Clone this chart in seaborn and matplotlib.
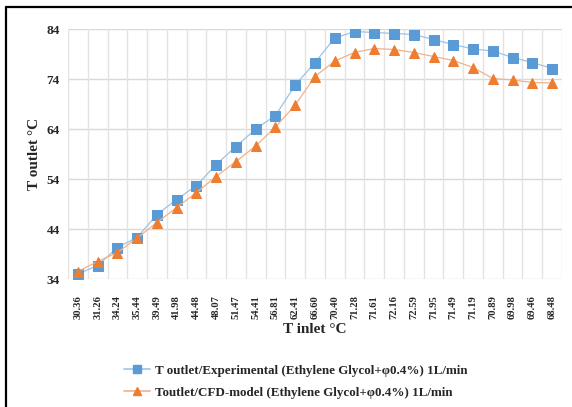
import matplotlib
matplotlib.use("Agg")
import matplotlib.pyplot as plt
import seaborn as sns
import pandas as pd
from matplotlib.lines import Line2D

t_inlet = ["30.36", "31.26", "34.24", "35.44", "39.49", "41.98", "44.48", "48.07",
           "51.47", "54.41", "56.81", "62.41", "66.60", "70.40", "71.28", "71.61",
           "72.16", "72.59", "71.95", "71.49", "71.19", "70.89", "69.98", "69.46", "68.48"]
t_out_exp = [35.0, 36.7, 40.3, 42.3, 46.9, 49.9, 52.7, 56.9, 60.5, 64.0, 66.7, 72.8,
             77.3, 82.2, 83.5, 83.3, 83.1, 82.9, 81.9, 80.9, 80.0, 79.6, 78.3, 77.3, 76.1]
t_out_cfd = [35.5, 37.5, 39.3, 42.2, 45.3, 48.3, 51.3, 54.5, 57.5, 60.6, 64.4, 68.8,
             74.5, 77.6, 79.3, 80.1, 79.9, 79.3, 78.5, 77.7, 76.3, 74.1, 73.8, 73.3, 73.2]
y_ticks = [34, 44, 54, 64, 74, 84]
label_exp = "T outlet/Experimental (Ethylene Glycol+\u03c60.4%) 1L/min"
label_cfd = "Toutlet/CFD-model (Ethylene Glycol+\u03c60.4%) 1L/min"

sns.set_style("white")
plt.rcParams['font.family'] = ['Liberation Serif', 'DejaVu Serif']

blue = "#5B9BD5"
orange = "#ED7D31"

idx = list(range(len(t_inlet)))
df = pd.DataFrame({"i": idx, "exp": t_out_exp, "cfd": t_out_cfd})

fig = plt.figure(figsize=(5.72, 4.07), dpi=100)
ax = fig.add_axes([68 / 572, 1 - 279 / 407, (562 - 68) / 572, (279 - 29) / 407])

# frame lines (top and left) of the chart area
fig.add_artist(Line2D([6 / 572, 1.0], [1 - 7 / 407, 1 - 7 / 407], color="black", lw=1.6, transform=fig.transFigure))
fig.add_artist(Line2D([6 / 572, 6 / 572], [0, 1 - 7 / 407], color="black", lw=1.6, transform=fig.transFigure))

sns.lineplot(data=df, x="i", y="exp", ax=ax, color="#9DC3E6", lw=0.9, marker="s",
             markersize=6.5, markerfacecolor=blue, markeredgecolor=blue, zorder=3)
sns.lineplot(data=df, x="i", y="cfd", ax=ax, color="#F4B183", lw=0.9, marker="^",
             markersize=7.5, markerfacecolor=orange, markeredgecolor=orange, zorder=3)

ax.set_xlim(-0.5, len(t_inlet) - 0.5)
ax.set_ylim(34, 84)
ax.set_yticks(y_ticks)
ax.set_yticklabels([str(v) for v in y_ticks], fontsize=9.5, fontweight="bold")
ax.set_xticks(idx)
ax.set_xticklabels(t_inlet, rotation=90, fontsize=7.6, fontweight="bold")
ax.tick_params(axis="y", length=0, pad=6)
ax.tick_params(axis="x", length=0, pad=11.5)

for v in y_ticks:
    ax.axhline(v, color="#D9D9D9", lw=1.0, zorder=0)
for b in range(len(t_inlet) + 1):
    ax.axvline(b - 0.5, color="#E3E3E3", lw=1.0, zorder=0)
for s in ax.spines.values():
    s.set_visible(False)

ax.set_xlabel("T inlet \u00b0C", fontsize=11, fontweight="bold", labelpad=3)
ax.set_ylabel("T outlet \u00b0C", fontsize=11, fontweight="bold", labelpad=3.5)

handles = [
    Line2D([], [], color="#9DC3E6", lw=1.2, marker="s", markersize=5.5,
           markerfacecolor=blue, markeredgecolor=blue),
    Line2D([], [], color="#F4B183", lw=1.2, marker="^", markersize=6,
           markerfacecolor=orange, markeredgecolor=orange),
]
fig.legend(handles, [label_exp, label_cfd], loc="upper left",
           bbox_to_anchor=(112 / 572, 1 - 353 / 407), frameon=False,
           prop={"size": 9.4, "weight": "bold"}, handlelength=2.0, labelspacing=0.75,
           handletextpad=0.4)

fig.savefig("out.png", dpi=100)
